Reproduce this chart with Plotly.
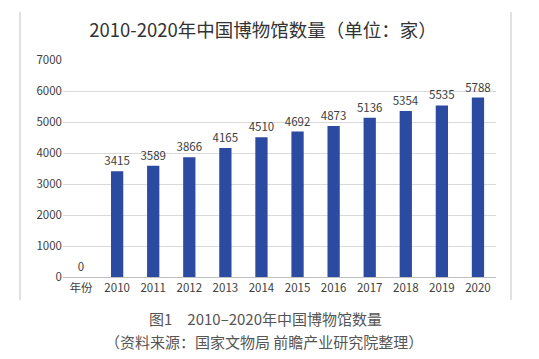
import plotly.graph_objects as go

categories = ["年份", "2010", "2011", "2012", "2013", "2014", "2015", "2016", "2017", "2018", "2019", "2020"]
values = [0, 3415, 3589, 3866, 4165, 4510, 4692, 4873, 5136, 5354, 5535, 5788]
y_ticks = [0, 1000, 2000, 3000, 4000, 5000, 6000, 7000]

font_cjk = "Noto Sans CJK SC, Noto Sans, sans-serif"

W, H = 539, 359
l, r, t, b = 63, 43, 60, 82
pw, ph = W - l - r, H - t - b
def px(xp):
    return (xp - l) / pw
def py(yp):
    return (H - b - yp) / ph

fig = go.Figure()
fig.add_trace(go.Bar(
    x=categories, y=values,
    marker=dict(color="#2A4B9F", line=dict(width=0)),
    text=[str(v) for v in values],
    textposition="outside",
    constraintext="none",
    textfont=dict(size=11.5, color="#404040", family=font_cjk),
    cliponaxis=False,
    width=0.34,
))

fig.update_layout(
    width=W, height=H,
    margin=dict(l=l, r=r, t=t, b=b),
    paper_bgcolor="white", plot_bgcolor="white",
    showlegend=False,
    title=dict(text="2010-2020年中国博物馆数量（单位：家）", x=px(263), xanchor="center",
               xref="paper", y=1 - 31 / H, yanchor="middle",
               font=dict(size=18.5, color="#333333", family=font_cjk)),
    font=dict(family=font_cjk),
    xaxis=dict(showgrid=False, tickfont=dict(size=11.5, color="#404040"),
               showline=True, linecolor="#BFBFBF", linewidth=1, ticks=""),
    yaxis=dict(range=[0, 7000], tickvals=y_ticks, showgrid=True, gridcolor="#D9D9D9",
               gridwidth=1, zeroline=False, tickfont=dict(size=11.5, color="#404040"),
               ticks="", showline=False, ticksuffix="  "),
)

for xp in (20, 511):
    fig.add_shape(type="line", xref="paper", yref="paper",
                  x0=px(xp), x1=px(xp), y0=py(12), y1=py(300),
                  line=dict(color="#C4C4C4", width=1))

fig.add_annotation(text="图1　2010–2020年中国博物馆数量", xref="paper", yref="paper",
                   x=px(265), y=py(318.5), xanchor="center", yanchor="middle", showarrow=False,
                   font=dict(size=15, color="#555555", family=font_cjk))
fig.add_annotation(text="（资料来源：国家文物局 前瞻产业研究院整理）", xref="paper", yref="paper",
                   x=px(264), y=py(341.5), xanchor="center", yanchor="middle", showarrow=False,
                   font=dict(size=15, color="#555555", family=font_cjk))

fig.write_html("out.html", config={"displayModeBar": False},
               post_script="document.body.style.margin='0';document.body.style.padding='0';")
